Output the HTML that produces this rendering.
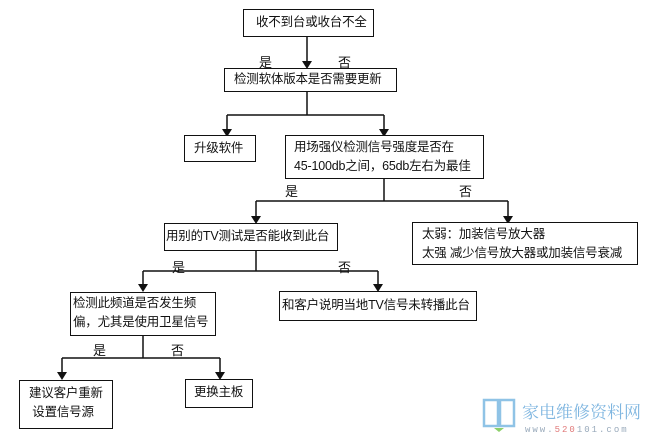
<!DOCTYPE html>
<html><head><meta charset="utf-8"><style>
body{margin:0;width:654px;height:438px;background:#fff;position:relative;overflow:hidden;font-family:"Liberation Sans","Noto Sans CJK SC",sans-serif;font-size:12.5px;color:#111}
.b{position:absolute;border:1.5px solid #111;box-sizing:border-box;background:#fff;line-height:19px;white-space:nowrap;letter-spacing:-0.2px}
.t{position:absolute;font-size:13px}
svg{position:absolute;left:0;top:0}
</style></head><body>
<svg width="654" height="438">
<g stroke="#111" stroke-width="1.5" fill="none">
<path d="M307 36V62"/>
<path d="M307 91V115M227 115H384M227 115V130M384 115V130"/>
<path d="M384 178V201M256 201H508M256 201V217M508 201V217"/>
<path d="M256 250V271M143 271H378M143 271V285M378 271V285"/>
<path d="M143 335V358M62 358H220M62 358V373M220 358V373"/>
</g>
<g fill="#111">
<path d="M302 61h10l-5 8z"/>
<path d="M222 129h10l-5 8z"/><path d="M379 129h10l-5 8z"/>
<path d="M251 216h10l-5 8z"/><path d="M503 216h10l-5 8z"/>
<path d="M138 284h10l-5 8z"/><path d="M373 284h10l-5 8z"/>
<path d="M57 372h10l-5 8z"/><path d="M215 372h10l-5 8z"/>
</g>
<g stroke="#8fc3e6" stroke-width="2.5" fill="none">
<path d="M484 400h14v26h-14zM500 400h14v26h-14z"/>
</g>
<path d="M494 428h10l-5 4z" fill="#8ccf6a"/>
<text x="522" y="418" font-family="Noto Serif CJK SC,serif" font-size="17" fill="#7fb6e0">家电维修资料网</text>
<text x="525" y="432" font-family="Liberation Mono,monospace" font-size="9" fill="#9ab" letter-spacing="2">www.<tspan fill="#e07a7a">520</tspan>101.com</text>
</svg>
<div class="b" style="left:243px;top:9px;width:131px;height:28px;padding:3px 0 0 12px">收不到台或收台不全</div>
<div class="t" style="left:259px;top:52px">是</div><div class="t" style="left:338px;top:52px">否</div>
<div class="b" style="left:224px;top:68px;width:173px;height:24px;padding:1px 0 0 9px">检测软体版本是否需要更新</div>
<div class="b" style="left:184px;top:135px;width:72px;height:27px;padding:3px 0 0 9px">升级软件</div>
<div class="b" style="left:285px;top:135px;width:199px;height:44px;padding:2px 0 0 8px">用场强仪检测信号强度是否在<br>45-100db之间，65db左右为最佳</div>
<div class="t" style="left:285px;top:181px">是</div><div class="t" style="left:459px;top:181px">否</div>
<div class="b" style="left:164px;top:223px;width:174px;height:28px;padding:3px 0 0 1px">用别的TV测试是否能收到此台</div>
<div class="b" style="left:412px;top:222px;width:226px;height:43px;padding:2px 0 0 9px">太弱：加装信号放大器<br>太强 减少信号放大器或加装信号衰减</div>
<div class="t" style="left:172px;top:257px">是</div><div class="t" style="left:338px;top:257px">否</div>
<div class="b" style="left:70px;top:292px;width:146px;height:44px;padding:1px 0 0 2px">检测此频道是否发生频<br>偏，尤其是使用卫星信号</div>
<div class="b" style="left:279px;top:291px;width:198px;height:30px;padding:4px 0 0 2px">和客户说明当地TV信号未转播此台</div>
<div class="t" style="left:93px;top:340px">是</div><div class="t" style="left:171px;top:340px">否</div>
<div class="b" style="left:19px;top:380px;width:94px;height:49px;padding:3px 0 0 9px">建议客户重新<br>&nbsp;设置信号源</div>
<div class="b" style="left:185px;top:379px;width:68px;height:29px;padding:3px 0 0 8px">更换主板</div>
</body></html>
